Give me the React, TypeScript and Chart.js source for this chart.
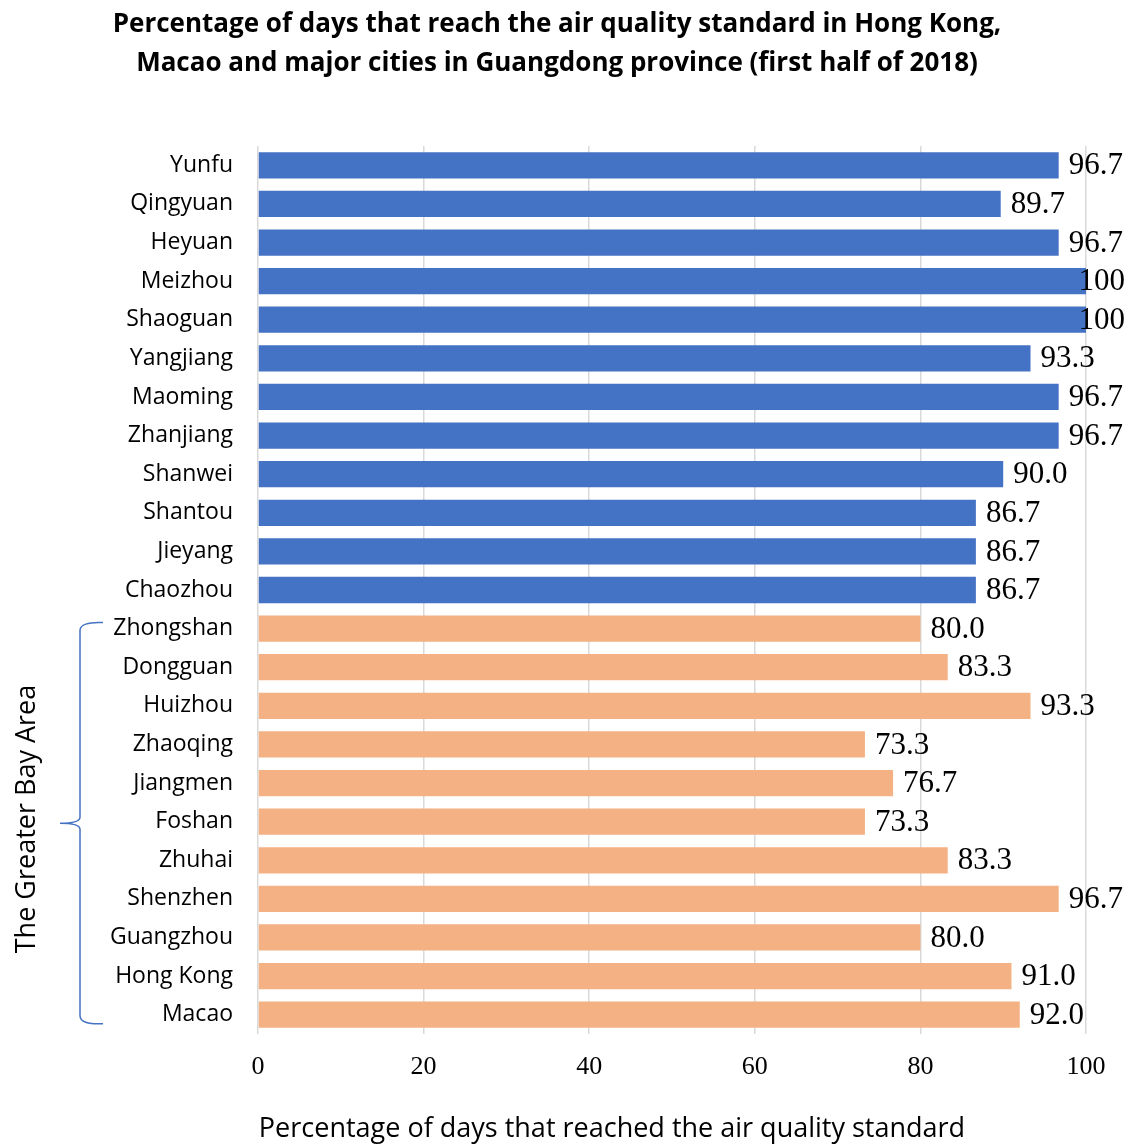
import React, { useEffect, useRef } from "react";
import { Chart, registerables } from "chart.js";

Chart.register(...registerables);

const titleLines = [
  "Percentage of days that reach the air quality standard in Hong Kong,",
  "Macao and major cities in Guangdong province (first half of 2018)",
];
const xAxisTitle = "Percentage of days that reached the air quality standard";
const groupLabel = "The Greater Bay Area";

const otherCities = ["Yunfu", "Qingyuan", "Heyuan", "Meizhou", "Shaoguan", "Yangjiang", "Maoming", "Zhanjiang", "Shanwei", "Shantou", "Jieyang", "Chaozhou"];
const otherValues = [96.7, 89.7, 96.7, 100, 100, 93.3, 96.7, 96.7, 90.0, 86.7, 86.7, 86.7];
const gbaCities = ["Zhongshan", "Dongguan", "Huizhou", "Zhaoqing", "Jiangmen", "Foshan", "Zhuhai", "Shenzhen", "Guangzhou", "Hong Kong", "Macao"];
const gbaValues = [80.0, 83.3, 93.3, 73.3, 76.7, 73.3, 83.3, 96.7, 80.0, 91.0, 92.0];
const xTicks = [0, 20, 40, 60, 80, 100];

const BLUE = "#4472C4";
const ORANGE = "#F4B183";
const W = 1133;
const H = 1146;
const SANS = "'Open Sans'";

const fmt = (v: number) => (v === 100 ? "100" : v.toFixed(1));

const decorPlugin = {
  id: "decor",
  afterDatasetsDraw(chart: any) {
    const ctx = chart.ctx;
    const meta = chart.getDatasetMeta(0);
    const ds = chart.data.datasets[0];
    ctx.save();
    ctx.font = "31px 'Liberation Serif'";
    ctx.fillStyle = "#000";
    ctx.textBaseline = "middle";
    ctx.textAlign = "left";
    meta.data.forEach((bar: any, i: number) => {
      const txt = fmt(ds.data[i]);
      const tw = ctx.measureText(txt).width;
      let x = bar.x + 10;
      if (x + tw > chart.width - 8) x = chart.width - 8 - tw;
      ctx.fillText(txt, x, bar.y + 1);
    });
    ctx.restore();
  },
  afterDraw(chart: any) {
    const ctx = chart.ctx;
    const ys = chart.scales.y;
    ctx.save();
    ctx.fillStyle = "#000";
    ctx.textAlign = "center";
    ctx.textBaseline = "middle";
    ctx.font = `bold 26px ${SANS}`;
    ctx.fillText(titleLines[0], 557, 25);
    ctx.fillText(titleLines[1], 557, 64);
    ctx.font = `27px ${SANS}`;
    ctx.fillText(xAxisTitle, 612, 1129);
    // brace
    const first = otherCities.length;
    const last = first + gbaCities.length - 1;
    const top = ys.getPixelForValue(first) - 6;
    const bot = ys.getPixelForValue(last) + 9;
    const mid = (top + bot) / 2;
    const xv = 80;
    ctx.strokeStyle = BLUE;
    ctx.lineWidth = 1.5;
    ctx.beginPath();
    ctx.moveTo(103, top);
    ctx.quadraticCurveTo(xv, top - 1, xv, top + 8);
    ctx.lineTo(xv, mid - 6);
    ctx.quadraticCurveTo(xv, mid, 60, mid);
    ctx.quadraticCurveTo(xv, mid, xv, mid + 6);
    ctx.lineTo(xv, bot - 8);
    ctx.quadraticCurveTo(xv, bot + 1, 103, bot);
    ctx.stroke();
    ctx.translate(27, 819);
    ctx.rotate(-Math.PI / 2);
    ctx.fillStyle = "#000";
    ctx.font = `27px ${SANS}`;
    ctx.textAlign = "center";
    ctx.textBaseline = "middle";
    ctx.fillText(groupLabel, 0, 0);
    ctx.restore();
  },
};

export default function App() {
  const ref = useRef<HTMLCanvasElement | null>(null);
  useEffect(() => {
    document.body.style.margin = "0";
    const labels = [...otherCities, ...gbaCities];
    const values = [...otherValues, ...gbaValues];
    const colors = labels.map((_, i) => (i < otherCities.length ? BLUE : ORANGE));
    const chart = new Chart(ref.current as HTMLCanvasElement, {
      type: "bar",
      data: {
        labels,
        datasets: [
          {
            data: values,
            backgroundColor: colors,
            borderWidth: 0,
            categoryPercentage: 0.68,
            barPercentage: 1,
          },
        ],
      },
      plugins: [decorPlugin],
      options: {
        indexAxis: "y",
        responsive: false,
        animation: false,
        devicePixelRatio: 1,
        layout: { padding: { left: 0, right: W - 1086, top: 146, bottom: 0 } },
        plugins: { legend: { display: false }, tooltip: { enabled: false }, title: { display: false } },
        scales: {
          x: {
            min: 0,
            max: 100,
            afterBuildTicks: (scale: any) => {
              scale.ticks = xTicks.map((v) => ({ value: v }));
            },
            afterFit: (scale: any) => {
              scale.height = H - 1034;
            },
            grid: { color: "#d9d9d9", lineWidth: 1.5, drawTicks: false },
            border: { display: false },
            ticks: {
              font: { family: "'Liberation Serif'", size: 26 },
              color: "#000",
              padding: 18,
            },
          },
          y: {
            afterFit: (scale: any) => {
              scale.width = 258;
            },
            grid: { display: false, drawTicks: false },
            border: { display: false },
            ticks: {
              font: { family: SANS, size: 23 },
              color: "#000",
              padding: 25,
              autoSkip: false,
            },
          },
        },
      },
    });
    return () => chart.destroy();
  }, []);
  return <canvas ref={ref} width={W} height={H} style={{ display: "block" }} />;
}
